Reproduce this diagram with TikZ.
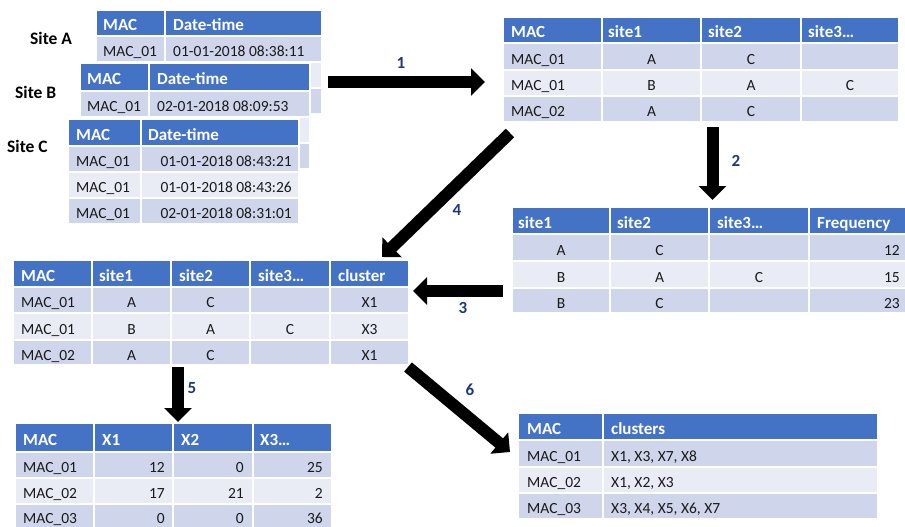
\documentclass[tikz,border=0pt]{standalone}
\usepackage{fontspec}
\setmainfont{Carlito}
\usetikzlibrary{arrows.meta}
\definecolor{hdrc}{HTML}{4472C4}
\definecolor{rowd}{HTML}{CFD5EA}
\definecolor{rowl}{HTML}{E9EBF5}
\definecolor{numc}{RGB}{31,56,120}
\definecolor{txt}{HTML}{1A1A1A}
\tikzset{
 hd/.style={font=\fontsize{17}{20}\selectfont\bfseries, text=white, inner sep=0pt},
 bd/.style={font=\fontsize{15.5}{18}\selectfont, text=txt, inner sep=0pt},
 sep/.style={draw=white, line width=1.5pt},
 sitelbl/.style={font=\fontsize{17.5}{20}\selectfont\bfseries, text=black, inner sep=0pt},
 num/.style={font=\fontsize{17}{20}\selectfont\bfseries, text=numc, inner sep=0pt},
 bigarrow/.style={line width=12pt, -{Triangle[length=14pt,width=27pt]}, draw=black},
 L/.style={anchor=base west},
 R/.style={anchor=base east},
 C/.style={anchor=base},
}
\newcommand{\tablebg}[8]{%
 \fill[hdrc] (#1,#3) rectangle (#2,#4);
 \fill[rowd] (#1,#4) rectangle (#2,#5);
 \fill[rowl] (#1,#5) rectangle (#2,#6);
 \fill[rowd] (#1,#6) rectangle (#2,#7);
 \foreach \yy in {#4,#5,#6} {\draw[sep] (#1,\yy) -- (#2,\yy);}
 \foreach \xx in {#8} {\draw[sep] (\xx,#3) -- (\xx,#7);}
 \draw[sep] (#1,#3) rectangle (#2,#7);
}
\begin{document}
\begin{tikzpicture}[x=1pt,y=-1pt]
\useasboundingbox (0,0) rectangle (905,527);

% ---------- Site A ----------
\node[sitelbl,L] (siteA) at (30,44.5) {Site A};
\tablebg{96}{322}{10}{36}{62}{88}{114}{165}
\node[hd,L] (a-h1) at (103,30.5) {MAC};
\node[hd,L] (a-h2) at (173,30.5) {Date-time};
\node[bd,L] (a-m1) at (103,56.5) {MAC\_01};
\node[bd,L] (a-d1) at (173,56.5) {01-01-2018 08:38:11};

% ---------- Site B ----------
\node[sitelbl,L] (siteB) at (15,98) {Site B};
\tablebg{80}{310}{63}{91}{117}{143}{169}{149}
\node[hd,L] (b-h1) at (87,84.5) {MAC};
\node[hd,L] (b-h2) at (157,84.5) {Date-time};
\node[bd,L] (b-m1) at (87,111.5) {MAC\_01};
\node[bd,L] (b-d1) at (157,111.5) {02-01-2018 08:09:53};

% ---------- Site C ----------
\node[sitelbl,L] (siteC) at (7,152) {Site C};
\tablebg{68}{299}{119}{146}{172}{198}{224}{141}
\node[hd,L] (c-h1) at (76,140) {MAC};
\node[hd,L] (c-h2) at (148,140) {Date-time};
\node[bd,L] (c-m1) at (76,166.5) {MAC\_01};
\node[bd,L] (c-m2) at (76,192.5) {MAC\_01};
\node[bd,L] (c-m3) at (76,218.5) {MAC\_01};
\node[bd,R] (c-d1) at (292,166.5) {01-01-2018 08:43:21};
\node[bd,R] (c-d2) at (292,192.5) {01-01-2018 08:43:26};
\node[bd,R] (c-d3) at (292,218.5) {02-01-2018 08:31:01};

% ---------- Top right ----------
\tablebg{503}{899}{17}{43}{70}{96}{122}{602,701,801}
\node[hd,L] (tr-h1) at (511,37.5) {MAC};
\node[hd,L] (tr-h2) at (608,37.5) {site1};
\node[hd,L] (tr-h3) at (708,37.5) {site2};
\node[hd,L] (tr-h4) at (808,37.5) {site3…};
\node[bd,L] (tr-m1) at (511,64) {MAC\_01};
\node[bd,L] (tr-m2) at (511,90.5) {MAC\_01};
\node[bd,L] (tr-m3) at (511,116.5) {MAC\_02};
\node[bd,C] (tr-a1) at (651.5,64) {A};
\node[bd,C] (tr-b1) at (751,64) {C};
\node[bd,C] (tr-a2) at (651.5,90.5) {B};
\node[bd,C] (tr-b2) at (751,90.5) {A};
\node[bd,C] (tr-c2) at (850,90.5) {C};
\node[bd,C] (tr-a3) at (651.5,116.5) {A};
\node[bd,C] (tr-b3) at (751,116.5) {C};

% ---------- Middle right ----------
\tablebg{512}{908}{207}{234}{261}{288}{313}{610,709,809}
\node[hd,L] (mr-h1) at (518,228) {site1};
\node[hd,L] (mr-h2) at (617,228) {site2};
\node[hd,L] (mr-h3) at (717,228) {site3…};
\node[hd,L] (mr-h4) at (817,228) {Frequency};
\node[bd,C] (mr-a1) at (561,255) {A};
\node[bd,C] (mr-b1) at (659.5,255) {C};
\node[bd,R] (mr-f1) at (900,255) {12};
\node[bd,C] (mr-a2) at (561,282) {B};
\node[bd,C] (mr-b2) at (659.5,282) {A};
\node[bd,C] (mr-c2) at (759,282) {C};
\node[bd,R] (mr-f2) at (900,282) {15};
\node[bd,C] (mr-a3) at (561,308) {B};
\node[bd,C] (mr-b3) at (659.5,308) {C};
\node[bd,R] (mr-f3) at (900,308) {23};

% ---------- Middle left ----------
\tablebg{13}{409}{260}{287}{313}{340}{365}{92,171,250,330}
\node[hd,L] (ml-h1) at (21,281) {MAC};
\node[hd,L] (ml-h2) at (99,281) {site1};
\node[hd,L] (ml-h3) at (179,281) {site2};
\node[hd,L] (ml-h4) at (258,281) {site3…};
\node[hd,L] (ml-h5) at (338,281) {cluster};
\node[bd,L] (ml-m1) at (21,307.5) {MAC\_01};
\node[bd,L] (ml-m2) at (21,334) {MAC\_01};
\node[bd,L] (ml-m3) at (21,360) {MAC\_02};
\node[bd,C] (ml-a1) at (131.5,307.5) {A};
\node[bd,C] (ml-b1) at (210.5,307.5) {C};
\node[bd,C] (ml-x1) at (369.5,307.5) {X1};
\node[bd,C] (ml-a2) at (131.5,334) {B};
\node[bd,C] (ml-b2) at (210.5,334) {A};
\node[bd,C] (ml-c2) at (290,334) {C};
\node[bd,C] (ml-x2) at (369.5,334) {X3};
\node[bd,C] (ml-a3) at (131.5,360) {A};
\node[bd,C] (ml-b3) at (210.5,360) {C};
\node[bd,C] (ml-x3) at (369.5,360) {X1};

% ---------- Bottom left ----------
\tablebg{15}{332}{423}{452}{478}{504}{533}{94,173,253}
\node[hd,L] (bl-h1) at (23,445) {MAC};
\node[hd,L] (bl-h2) at (102,445) {X1};
\node[hd,L] (bl-h3) at (181,445) {X2};
\node[hd,L] (bl-h4) at (260,445) {X3…};
\node[bd,L] (bl-m1) at (23,472.5) {MAC\_01};
\node[bd,L] (bl-m2) at (23,498.5) {MAC\_02};
\node[bd,L] (bl-m3) at (23,523.5) {MAC\_03};
\node[bd,R] (bl-11) at (165,472.5) {12};
\node[bd,R] (bl-12) at (244,472.5) {0};
\node[bd,R] (bl-13) at (323,472.5) {25};
\node[bd,R] (bl-21) at (165,498.5) {17};
\node[bd,R] (bl-22) at (244,498.5) {21};
\node[bd,R] (bl-23) at (323,498.5) {2};
\node[bd,R] (bl-31) at (165,523.5) {0};
\node[bd,R] (bl-32) at (244,523.5) {0};
\node[bd,R] (bl-33) at (323,523.5) {36};

% ---------- Bottom right ----------
\tablebg{518}{878}{413}{440}{467}{493}{519}{603}
\node[hd,L] (br-h1) at (527,434) {MAC};
\node[hd,L] (br-h2) at (611,434) {clusters};
\node[bd,L] (br-m1) at (527,461) {MAC\_01};
\node[bd,L] (br-m2) at (527,487.5) {MAC\_02};
\node[bd,L] (br-m3) at (527,513.5) {MAC\_03};
\node[bd,L] (br-c1) at (611,461) {X1, X3, X7, X8};
\node[bd,L] (br-c2) at (611,487.5) {X1, X2, X3};
\node[bd,L] (br-c3) at (611,513.5) {X3, X4, X5, X6, X7};

% ---------- Arrows ----------
\coordinate (a1s) at (328,82);   \coordinate (a1e) at (485,82);
\coordinate (a2s) at (712.5,127); \coordinate (a2e) at (712.5,200);
\coordinate (a3s) at (503,291);  \coordinate (a3e) at (413,291);
\coordinate (a4s) at (510,133);  \coordinate (a4e) at (382,257);
\coordinate (a5s) at (178,367);  \coordinate (a5e) at (178,422);
\coordinate (a6s) at (408,367);  \coordinate (a6e) at (510,452);
\draw[bigarrow] (a1s) -- (a1e);
\draw[bigarrow] (a2s) -- (a2e);
\draw[bigarrow] (a3s) -- (a3e);
\draw[bigarrow] (a4s) -- (a4e);
\draw[bigarrow] (a5s) -- (a5e);
\draw[bigarrow] (a6s) -- (a6e);
\node[num] (n1) at (401,63) {1};
\node[num] (n2) at (736,161) {2};
\node[num] (n3) at (463,308) {3};
\node[num] (n4) at (457,210) {4};
\node[num] (n5) at (192,388) {5};
\node[num] (n6) at (470,390) {6};
\end{tikzpicture}
\end{document}
